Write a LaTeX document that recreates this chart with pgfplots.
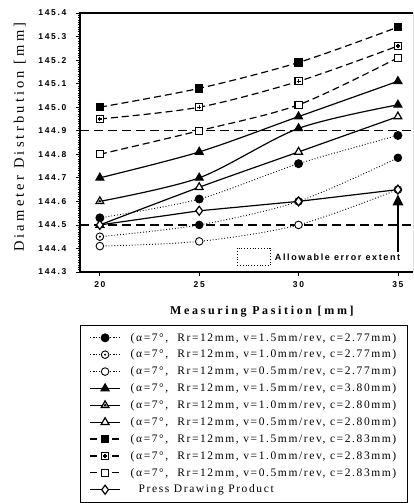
\documentclass[border=0pt]{standalone}
\usepackage{fontspec}
\setmainfont{Liberation Serif}
\newfontfamily\ticksf{Liberation Sans}[LetterSpace=20]
\newfontfamily\annsf{Liberation Sans}[LetterSpace=18]
\newfontfamily\lsserif{Liberation Serif}[LetterSpace=22]
\newfontfamily\legserif{Liberation Serif}[LetterSpace=14]
\usepackage{pgfplots}
\pgfplotsset{compat=1.18}
\usetikzlibrary{arrows.meta}

\pgfdeclareplotmark{odot}{%
  \pgfpathcircle{\pgfpointorigin}{\pgfplotmarksize}\pgfusepathqfillstroke
  \pgfsetfillcolor{black}%
  \pgfpathcircle{\pgfpointorigin}{0.3\pgfplotmarksize}\pgfusepathqfill}
\pgfdeclareplotmark{boxplus}{%
  \pgfpathrectangle{\pgfqpoint{-\pgfplotmarksize}{-\pgfplotmarksize}}{\pgfqpoint{2\pgfplotmarksize}{2\pgfplotmarksize}}\pgfusepathqfillstroke
  \pgfpathmoveto{\pgfqpoint{-0.55\pgfplotmarksize}{0pt}}\pgfpathlineto{\pgfqpoint{0.55\pgfplotmarksize}{0pt}}%
  \pgfpathmoveto{\pgfqpoint{0pt}{-0.55\pgfplotmarksize}}\pgfpathlineto{\pgfqpoint{0pt}{0.55\pgfplotmarksize}}\pgfusepathqstroke}
\pgfdeclareplotmark{tridot}{%
  \pgfpathmoveto{\pgfqpoint{0pt}{\pgfplotmarksize}}%
  \pgfpathlineto{\pgfqpointpolar{-150}{\pgfplotmarksize}}%
  \pgfpathlineto{\pgfqpointpolar{-30}{\pgfplotmarksize}}%
  \pgfpathclose\pgfusepathqfillstroke
  \pgfsetfillcolor{black}%
  \pgfpathmoveto{\pgfqpoint{0pt}{0.45\pgfplotmarksize}}%
  \pgfpathlineto{\pgfqpointpolar{-150}{0.45\pgfplotmarksize}}%
  \pgfpathlineto{\pgfqpointpolar{-30}{0.45\pgfplotmarksize}}%
  \pgfpathclose\pgfusepathqfill}

\begin{document}
\begin{tikzpicture}
\path[use as bounding box, clip] (-80pt,-231pt) rectangle (333pt,272pt);
\begin{axis}[
  scale only axis, width=333.8pt, height=259pt,
  xmin=19, xmax=35.8, ymin=144.3, ymax=145.4,
  xtick={20,25,30,35},
  ytick={144.3,144.4,144.5,144.6,144.7,144.8,144.9,145.0,145.1,145.2,145.3,145.4},
  scaled y ticks=false,
  minor y tick num=9,
  xtick pos=bottom, ytick pos=left,
  tick align=outside, major tick length=4pt, minor tick length=2pt,
  tick style={line width=0.8pt, black},
  axis line style={line width=1.3pt},
  /pgf/number format/assume math mode=true,
  y tick label style={/pgf/number format/fixed, /pgf/number format/fixed zerofill, /pgf/number format/precision=1, xshift=-6pt},
  x tick label style={yshift=-2pt},
  tick label style={font=\ticksf\bfseries\fontsize{8.5}{10}\selectfont},
  xlabel={Measuring Pasition [mm]},
  ylabel={Diameter Distrbution [mm]},
  xlabel style={at={(axis description cs:0.545,-0.154)}, anchor=center, font=\lsserif\bfseries\fontsize{12}{14}\selectfont},
  ylabel style={at={(axis description cs:-0.18,0.521)}, anchor=center, font=\lsserif\fontsize{14.5}{16}\selectfont},
  legend style={at={(axis description cs:0,-0.203)}, anchor=north west, draw=black, line width=1pt,
    font=\legserif\fontsize{11.5}{13}\selectfont, inner xsep=9pt, inner ysep=6pt, row sep=3.4pt,
    /tikz/every odd column/.append style={column sep=8pt}},
  legend cell align=left,
  legend image code/.code={\draw[mark repeat=2,mark phase=2,#1] plot coordinates {(0pt,0pt)(15pt,0pt)(30pt,0pt)};},
]
% reference lines
\addplot[forget plot, black, line width=1.2pt, dash pattern=on 9pt off 5pt] coordinates {(19,144.9) (35.8,144.9)};
\addplot[forget plot, black, line width=1.2pt, dash pattern=on 9pt off 5pt] coordinates {(19,144.5) (35.8,144.5)};

\addplot[black, line width=0.9pt, dotted, smooth, mark=*, mark size=4pt, mark options={solid, fill=black}]
  coordinates {(20,144.53) (25,144.61) (30,144.76) (35,144.88)};
\addlegendentry{(α=7°,\ \ Rr=12mm, v=1.5mm/rev, c=2.77mm)}
\addplot[black, line width=0.9pt, dotted, smooth, mark=odot, mark size=3.8pt, mark options={solid, fill=white}]
  coordinates {(20,144.45) (25,144.50) (30,144.60) (35,144.785)};
\addlegendentry{(α=7°,\ \ Rr=12mm, v=1.0mm/rev, c=2.77mm)}
\addplot[black, line width=0.9pt, dotted, smooth, mark=*, mark size=3.8pt, mark options={solid, fill=white}]
  coordinates {(20,144.41) (25,144.43) (30,144.50) (35,144.65)};
\addlegendentry{(α=7°,\ \ Rr=12mm, v=0.5mm/rev, c=2.77mm)}
\addplot[black, line width=1.2pt, smooth, mark=triangle*, mark size=4.5pt, mark options={solid, fill=black}]
  coordinates {(20,144.70) (25,144.81) (30,144.96) (35,145.11)};
\addlegendentry{(α=7°,\ \ Rr=12mm, v=1.5mm/rev, c=3.80mm)}
\addplot[black, line width=1.2pt, smooth, mark=tridot, mark size=4.5pt, mark options={solid, fill=white}]
  coordinates {(20,144.60) (25,144.70) (30,144.91) (35,145.01)};
\addlegendentry{(α=7°,\ \ Rr=12mm, v=1.0mm/rev, c=2.80mm)}
\addplot[black, line width=1.2pt, smooth, mark=triangle*, mark size=4.5pt, mark options={solid, fill=white}]
  coordinates {(20,144.50) (25,144.66) (30,144.81) (35,144.96)};
\addlegendentry{(α=7°,\ \ Rr=12mm, v=0.5mm/rev, c=2.80mm)}
\addplot[black, line width=1.2pt, dash pattern=on 7pt off 4pt, smooth, mark=square*, mark size=3.6pt, mark options={solid, fill=black}]
  coordinates {(20,145.00) (25,145.08) (30,145.19) (35,145.34)};
\addlegendentry{(α=7°,\ \ Rr=12mm, v=1.5mm/rev, c=2.83mm)}
\addplot[black, line width=1.2pt, dash pattern=on 7pt off 4pt, smooth, mark=boxplus, mark size=3.6pt, mark options={solid, fill=white}]
  coordinates {(20,144.95) (25,145.00) (30,145.11) (35,145.26)};
\addlegendentry{(α=7°,\ \ Rr=12mm, v=1.0mm/rev, c=2.83mm)}
\addplot[black, line width=1.2pt, dash pattern=on 7pt off 4pt, smooth, mark=square*, mark size=3.6pt, mark options={solid, fill=white}]
  coordinates {(20,144.80) (25,144.90) (30,145.01) (35,145.21)};
\addlegendentry{(α=7°,\ \ Rr=12mm, v=0.5mm/rev, c=2.83mm)}
\addplot[black, line width=1.2pt, mark=diamond*, mark size=4.5pt, mark options={solid, fill=white}]
  coordinates {(20,144.50) (25,144.56) (30,144.60) (35,144.65)};
\addlegendentry{\hspace{8pt}Press Drawing Product}

\draw[black, line width=0.8pt, dotted] (axis cs:26.9,144.326) rectangle (axis cs:28.56,144.402);
\node[anchor=west, inner sep=0pt, font=\annsf\bfseries\fontsize{9}{10}\selectfont] at (axis cs:28.8,144.364) {Allowable error extent};
\draw[black, line width=2.5pt, -{Triangle[length=11pt,width=10pt]}] (axis cs:35,144.385) -- (axis cs:35,144.63);
\end{axis}
\end{tikzpicture}
\end{document}
